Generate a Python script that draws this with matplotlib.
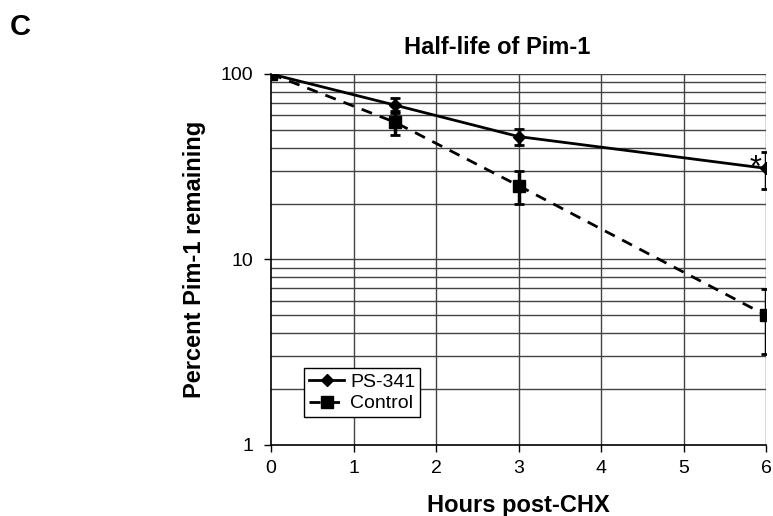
import matplotlib
matplotlib.use("Agg")
import matplotlib.pyplot as plt
from matplotlib.lines import Line2D
from matplotlib.ticker import FixedLocator, NullFormatter, FixedFormatter

plt.rcParams['font.family'] = ['Liberation Sans', 'DejaVu Sans']

hours = [0, 1.5, 3, 6]
ps341 = [100, 68, 46, 31]
ps341_err = [0, 6, 4.5, 7]
control = [100, 55, 25, 5]
control_err = [0, 8, 5, 1.9]

fig = plt.figure(figsize=(7.73, 5.16), dpi=100)
ax = fig.add_axes([0.3506, 0.1376, 0.6404, 0.719])

# gridlines (log minor + integer hours)
for d in (1, 10):
    for m in range(2, 11):
        ax.axhline(d * m, color="#444444", lw=1, zorder=0)
for h in range(1, 7):
    ax.axvline(h, color="#444444", lw=1, zorder=0)

ax.errorbar(hours, ps341, yerr=ps341_err, color="black", lw=2, marker="D",
            markersize=6, elinewidth=2.5, capsize=3.6, capthick=2, zorder=3)
ax.errorbar(hours, control, yerr=control_err, color="black", lw=2, ls=(0, (4, 3)),
            marker="s", markersize=8, elinewidth=2.5, capsize=3.6, capthick=2,
            zorder=3)

ax.set_yscale("log")
ax.set_ylim(1, 100)
ax.set_xlim(0, 6)
ax.yaxis.set_major_locator(FixedLocator([1, 10, 100]))
ax.yaxis.set_major_formatter(FixedFormatter(["1", "10", "100"]))
ax.yaxis.set_minor_locator(FixedLocator([]))
ax.yaxis.set_minor_formatter(NullFormatter())
ax.set_xticks(range(7))
ax.tick_params(labelsize=14, direction="out", length=5, width=1, pad=6)
ax.tick_params(axis="y", pad=8)

for s in ("top", "right"):
    ax.spines[s].set_visible(False)
ax.spines["left"].set_linewidth(1.2)
ax.spines["bottom"].set_linewidth(1.2)

ax.text(5.87, 28, "*", fontsize=22, ha="center", va="baseline")

fig.text(0.643, 0.907, "Half-life of Pim-1", fontsize=17, fontweight="bold",
         ha="center", va="center")
ax.set_xlabel("Hours post-CHX", fontsize=17, fontweight="bold", labelpad=12)
ax.set_ylabel("Percent Pim-1 remaining", fontsize=17, fontweight="bold", labelpad=10)

handles = [Line2D([], [], color="black", lw=2, marker="D", markersize=6),
           Line2D([], [], color="black", lw=2, ls=(0, (4, 3)), marker="s", markersize=8)]
leg = ax.legend(handles, ["PS-341", "Control"], loc="lower left",
                bbox_to_anchor=(0.067, 0.075), fontsize=14,
                frameon=True, fancybox=False, edgecolor="black", framealpha=1,
                handlelength=1.8, borderpad=0.25, labelspacing=0.2, handletextpad=0.3,
                borderaxespad=0)
leg.get_frame().set_linewidth(1)

fig.text(0.012, 0.975, "C", fontsize=21, fontweight="bold", va="top")

fig.savefig("out.png", dpi=100)
